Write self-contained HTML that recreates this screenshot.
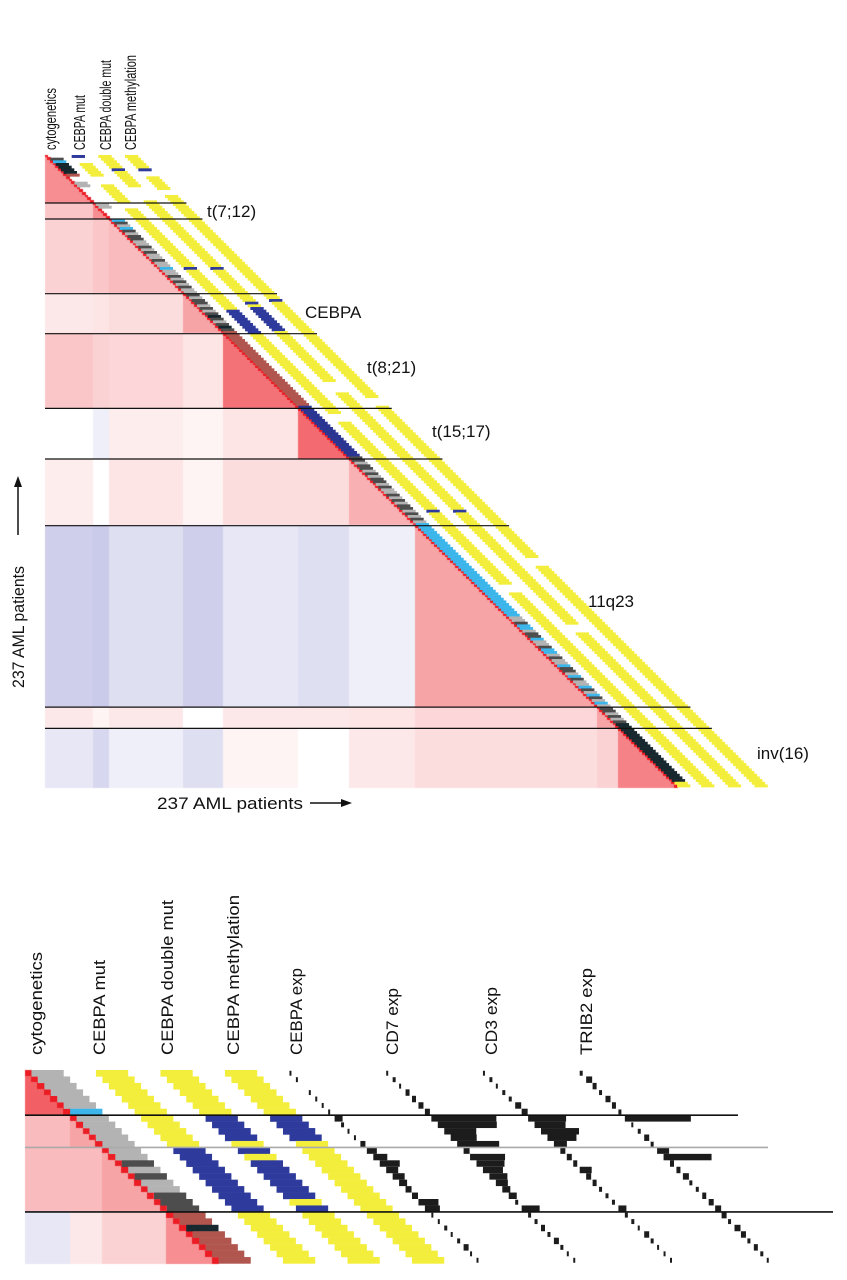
<!DOCTYPE html>
<html><head><meta charset="utf-8">
<style>
html,body{margin:0;padding:0;background:#fff;}
#wrap{position:relative;width:847px;height:1280px;overflow:hidden;}
canvas{position:absolute;left:0;top:0;}
svg{position:absolute;left:0;top:0;}
text{font-family:"Liberation Sans",sans-serif;fill:#111;}
</style></head>
<body>
<div id="wrap">
<canvas id="cv" width="847" height="1280"></canvas>
<svg id="sv" width="847" height="1280" viewBox="0 0 847 1280">
  <g>
    <text transform="translate(56,150) rotate(-90)" font-size="16" textLength="62" lengthAdjust="spacingAndGlyphs">cytogenetics</text>
    <text transform="translate(85,150) rotate(-90)" font-size="16" textLength="55" lengthAdjust="spacingAndGlyphs">CEBPA mut</text>
    <text transform="translate(111,150) rotate(-90)" font-size="16" textLength="90" lengthAdjust="spacingAndGlyphs">CEBPA double mut</text>
    <text transform="translate(136,150) rotate(-90)" font-size="16" textLength="95" lengthAdjust="spacingAndGlyphs">CEBPA methylation</text>
  </g>
  <g>
    <text x="207" y="217" font-size="17">t(7;12)</text>
    <text x="305" y="318" font-size="17">CEBPA</text>
    <text x="367" y="373" font-size="17">t(8;21)</text>
    <text x="432" y="437" font-size="17">t(15;17)</text>
    <text x="588" y="607" font-size="17">11q23</text>
    <text x="757" y="759" font-size="17">inv(16)</text>
  </g>
  <g>
    <text transform="translate(24,688) rotate(-90)" font-size="17" textLength="122" lengthAdjust="spacingAndGlyphs">237 AML patients</text>
    <line x1="18" y1="535" x2="18" y2="484" stroke="#111" stroke-width="1.5"/>
    <polygon points="18,476 14,487 22,487" fill="#111"/>
  </g>
  <g>
    <text x="157" y="809" font-size="17" textLength="146" lengthAdjust="spacingAndGlyphs">237 AML patients</text>
    <line x1="310" y1="803" x2="344" y2="803" stroke="#111" stroke-width="1.5"/>
    <polygon points="352,803 341,799 341,807" fill="#111"/>
  </g>
  <g>
    <text transform="translate(42,1055) rotate(-90)" font-size="17" textLength="103" lengthAdjust="spacingAndGlyphs">cytogenetics</text>
    <text transform="translate(105,1055) rotate(-90)" font-size="17" textLength="95" lengthAdjust="spacingAndGlyphs">CEBPA mut</text>
    <text transform="translate(173,1055) rotate(-90)" font-size="17" textLength="155" lengthAdjust="spacingAndGlyphs">CEBPA double mut</text>
    <text transform="translate(239,1055) rotate(-90)" font-size="17" textLength="160" lengthAdjust="spacingAndGlyphs">CEBPA methylation</text>
    <text transform="translate(302,1055) rotate(-90)" font-size="17" textLength="87" lengthAdjust="spacingAndGlyphs">CEBPA exp</text>
    <text transform="translate(398,1055) rotate(-90)" font-size="17" textLength="67" lengthAdjust="spacingAndGlyphs">CD7 exp</text>
    <text transform="translate(497,1055) rotate(-90)" font-size="17" textLength="68" lengthAdjust="spacingAndGlyphs">CD3 exp</text>
    <text transform="translate(592,1055) rotate(-90)" font-size="17" textLength="87" lengthAdjust="spacingAndGlyphs">TRIB2 exp</text>
  </g>
  <g id="marks"></g>
</svg>
</div>
<script>
// ---------- TOP PANEL DATA ----------
const topGroupBounds = [0,18,24,52,67,95,114,139,207,215,237];
const topBlockCorr = [
  [0.5],
  [0.25,0.5],
  [0.2,0.25,0.3],
  [0.1,0.12,0.15,0.4],
  [0.25,0.2,0.18,0.12,0.62],
  [0.0,-0.1,0.08,0.05,0.12,0.65],
  [0.08,0.0,0.12,0.05,0.15,0.15,0.35],
  [-0.3,-0.33,-0.2,-0.3,-0.15,-0.2,-0.1,0.4],
  [0.1,0.05,0.1,0.0,0.1,0.1,0.12,0.18,0.4],
  [-0.15,-0.25,-0.1,-0.2,0.05,0.0,0.1,0.15,0.2,0.55]
];
const topCytoRuns = [['w',1],['d',1],['c',1],['k',4],['b',1],['w',2],['g',2],['w',6],
  ['g',2],['w',4],
  ['c',1],['d',1],['g',1],['c',1],['d',1],['g',1],['d',2],['g',2],['d',1],['g',1],['d',1],['g',2],['d',1],['g',2],['c',1],['g',2],['d',1],['g',1],['d',1],['g',1],['d',1],['g',1],
  ['g',1],['d',1],['g',1],['d',2],['g',1],['d',1],['g',1],['d',1],['k',1],['d',1],['g',1],['d',1],['k',1],['d',1],
  ['b',28],['n',19],
  ['d',2],['g',1],['d',2],['g',1],['d',1],['g',1],['d',2],['g',1],['d',1],['g',2],['d',1],['g',1],['d',1],['g',1],['d',2],['g',1],['d',1],['g',1],['d',1],['g',1],
  ['c',35],['g',2],['d',1],['c',2],['g',1],['d',2],['c',1],['g',2],['d',1],['c',2],['g',1],['d',1],['g',2],['c',1],['d',2],['g',1],['c',1],['d',1],['g',2],['c',1],['d',1],['g',1],['c',1],['d',1],['g',1],
  ['c',1],['g',1],['d',2],['g',1],['d',1],['g',1],['d',1],
  ['k',22]];
const topMutRuns = [['b',1],['w',2],['y',5],['w',3],['y',7],['w',2],['y',22],['b',1],['y',15],['b',9],['y',30],['w',3],['y',33],['b',1],['y',27],['w',3],['y',73]];
const topDoubleRuns = [['y',5],['b',1],['y',6],['w',5],['y',25],['b',1],['y',12],['b',1],['y',1],['b',9],['y',19],['w',4],['y',44],['b',1],['y',42],['w',3],['y',58]];
const topMethRuns = [['y',5],['b',1],['w',2],['y',5],['w',2],['y',39],['b',1],['y',36],['w',3],['y',57],['w',3],['y',83]];

// ---------- BOTTOM PANEL DATA ----------
const botGroupBounds = [0,7,12,22,30];
const botBlockCorr = [
  [0.7],
  [0.3,0.4],
  [0.3,0.3,0.4],
  [-0.15,0.1,0.2,0.5]
];
const botCyto = "gggggg" + "c" + "ggggg" + "ggdgdggddd" + "bbkbbbbb";
const botMut = "yyyyyyyyyyyy" + "bbbbbbbbbb" + "yyyyyyyy";
const botDouble = "yyyyyyy" + "bbbb" + "y" + "b" + "y" + "bbbbbb" + "y" + "b" + "yyyyyyyy";
const botMeth = "yyyyyyy" + "bbbb" + "yyyyyyyyyyyyyyyyyyy";
const cebpaExp = [2,2,0,2,2,2,2, 8,3,2,2,5, 10,14,20,12,12,8,6,6,20,15, 2,2,3,2,3,5,2,2];
const cd7Exp   = [2,3,2,4,4,5,5, 65,59,32,26,42, 6,35,28,20,18,12,8,8,3,18, 3,3,4,3,5,3,2,2];
const cd3Exp   = [2,3,2,3,3,6,6, 38,31,38,29,13, 5,5,4,12,5,4,3,3,3,8, 3,3,2,5,3,2,2,2];
const trib2Exp = [3,6,4,3,5,4,3, 66,2,3,5,3, 12,48,4,4,6,3,3,4,5,6, 5,3,6,5,3,4,3,2];

// ---------- HELPERS ----------
const COLORS = {g:'#b3b3b3', d:'#4d4d4d', c:'#3cb6ea', k:'#17282f', b:'#b0564f', n:'#2b3592', y:'#f3ee3c', B:'#2e3a9c'};
function expand(runs, n){ const a=[]; runs.forEach(r=>{for(let i=0;i<r[1];i++)a.push(r[0]);}); while(a.length<n)a.push('y'); return a.slice(0,n); }
function groupOf(bounds, i){ for(let g=0; g<bounds.length-1; g++){ if(i<bounds[g+1]) return g; } return bounds.length-2; }
function corrColor(v){
  if(v>=0){ const r=Math.round(255-v*(255-236)), gg=Math.round(255-v*(255-28)), b=Math.round(255-v*(255-36)); return `rgb(${r},${gg},${b})`; }
  const t=-v; const r=Math.round(255-t*(255-95)), gg=Math.round(255-t*(255-95)), b=Math.round(255-t*(255-190)); return `rgb(${r},${gg},${b})`;
}
const NS='http://www.w3.org/2000/svg';
const marks=document.getElementById('marks');
function rect(x,y,w,h,fill,name){
  const el=document.createElementNS(NS,'rect');
  el.setAttribute('x',x.toFixed(2)); el.setAttribute('y',y.toFixed(2));
  el.setAttribute('width',w.toFixed(2)); el.setAttribute('height',h.toFixed(2));
  el.setAttribute('fill',fill);
  
  
  marks.appendChild(el); return el;
}
function hline(x1,x2,y,color,w,name){
  const el=document.createElementNS(NS,'line');
  el.setAttribute('x1',x1); el.setAttribute('x2',x2.toFixed(1)); el.setAttribute('y1',y.toFixed(1)); el.setAttribute('y2',y.toFixed(1));
  el.setAttribute('stroke',color); el.setAttribute('stroke-width',w);
  
  
  marks.appendChild(el);
}
const ctx=document.getElementById('cv').getContext('2d');

// ---------- TOP PANEL ----------
(function(){
  const N=237, X0=45, Y0=155, CW=2.667, CH=2.667;
  const xs=c=>X0+c*CW, ys=r=>Y0+r*CH;
  for(let r=0;r<N;r++){
    const gr=groupOf(topGroupBounds,r);
    for(let c=0;c<=r;c++){
      const gc=groupOf(topGroupBounds,c);
      const v = (c===r)?1:topBlockCorr[gr][gc];
      ctx.fillStyle=corrColor(v);
      const x0=Math.floor(xs(c)), x1=Math.ceil(xs(c+1)), y0=Math.floor(ys(r)), y1=Math.ceil(ys(r+1));
      ctx.fillRect(x0,y0,x1-x0,y1-y0);
    }
  }
  const cyto=expand(topCytoRuns,N), mut=expand(topMutRuns,N), dbl=expand(topDoubleRuns,N), meth=expand(topMethRuns,N);
  const strips=[[cyto,1,5,'top-cytogenetics-cell'],[mut,10,5,'top-cebpa-mut-cell'],[dbl,20,5,'top-cebpa-double-mut-cell'],[meth,30,5,'top-cebpa-methylation-cell']];
  strips.forEach((s,si)=>{
    const arr=s[0], off=s[1], w=s[2];
    for(let r=0;r<N;r++){
      const k=arr[r]; if(k==='w') continue;
      const fill = (si>0 && k==='b') ? COLORS.B : COLORS[k];
      rect(xs(r+off), ys(r), w*CW, CH+0.3, fill, s[3]);
    }
  });
  for(let g=1; g<topGroupBounds.length-1; g++){
    const b=topGroupBounds[g];
    hline(45, xs(b+35), ys(b), '#111', 1.2, 'top-group-divider');
  }
})();

// ---------- BOTTOM PANEL ----------
(function(){
  const N=30, X0=25, Y0=1070, C=6.45;
  const xs=c=>X0+c*C, ys=r=>Y0+r*C;
  for(let r=0;r<N;r++){
    const gr=groupOf(botGroupBounds,r);
    for(let c=0;c<=r;c++){
      const gc=groupOf(botGroupBounds,c);
      const v=(c===r)?1:botBlockCorr[gr][gc];
      ctx.fillStyle=corrColor(v);
      const x0=Math.floor(xs(c)), x1=Math.ceil(xs(c+1)), y0=Math.floor(ys(r)), y1=Math.ceil(ys(r+1));
      ctx.fillRect(x0,y0,x1-x0,y1-y0);
    }
  }
  const strips=[[botCyto,1,5,'bottom-cytogenetics-cell'],[botMut,11,5,'bottom-cebpa-mut-cell'],[botDouble,21,5,'bottom-cebpa-double-mut-cell'],[botMeth,31,5,'bottom-cebpa-methylation-cell']];
  strips.forEach((s,si)=>{
    for(let r=0;r<N;r++){
      const k=s[0][r]; if(k==='w') continue;
      const fill=(si>0 && k==='b')?COLORS.B:COLORS[k];
      rect(xs(r+s[1]), ys(r), s[2]*C, C+0.2, fill, s[3]);
    }
  });
  const exps=[[cebpaExp,41,'cebpa-exp-bar'],[cd7Exp,56,'cd7-exp-bar'],[cd3Exp,71,'cd3-exp-bar'],[trib2Exp,86,'trib2-exp-bar']];
  exps.forEach(e=>{
    for(let r=0;r<N;r++){
      const v=e[0][r]; if(v<=0) continue;
      const h = v<4 ? C-1.5 : C;
      rect(xs(r+e[1]), ys(r)+(C-h)/2, v, h, '#1c1c1c', e[2]);
    }
  });
  hline(25, 738, ys(7), '#111', 1.6, 'bottom-group-divider');
  hline(25, 768, ys(12), '#aaaaaa', 1.6, 'bottom-group-divider');
  hline(25, 833, ys(22), '#111', 1.6, 'bottom-group-divider');
})();
</script>
</body></html>
